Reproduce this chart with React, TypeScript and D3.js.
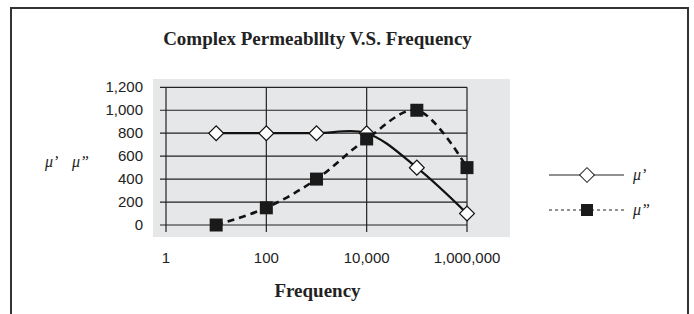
import React, { useEffect, useRef } from "react";
import * as d3 from "d3";

const freqs = [10, 100, 1000, 10000, 100000, 1000000];
const muReal = [800, 800, 800, 800, 500, 100];
const muImag = [0, 150, 400, 750, 1000, 500];
const xTicks = [1, 100, 10000, 1000000];
const yTicks = [0, 200, 400, 600, 800, 1000, 1200];
const title = "Complex Permeablllty V.S. Frequency";
const xTitle = "Frequency";
const yTitleParts = ["\u03bc\u2019", "\u03bc\u201d"];
const legendLabels = ["\u03bc\u2019", "\u03bc\u201d"];

const W = 694;
const H = 314;

export default function App() {
  const ref = useRef<SVGSVGElement | null>(null);

  useEffect(() => {
    const svg = d3.select(ref.current);
    svg.selectAll("*").remove();
    svg.attr("viewBox", `0 0 ${W} ${H}`);

    const serif = "'Liberation Serif', 'Times New Roman', serif";
    const sans = "'Liberation Sans', Arial, sans-serif";

    svg.append("rect").attr("width", W).attr("height", H).attr("fill", "#fff");

    // outer frame (no bottom edge visible)
    svg.append("path")
      .attr("d", `M11,${H} L11,8 L688,8 L688,${H}`)
      .attr("fill", "none").attr("stroke", "#333").attr("stroke-width", 2);

    const x = d3.scaleLog().domain([1, 1000000]).range([166, 467]);
    const y = d3.scaleLinear().domain([0, 1200]).range([225, 87.3]);

    // plot area background
    svg.append("rect").attr("x", 153).attr("y", 79).attr("width", 357).attr("height", 158).attr("fill", "#e6e7e8");

    const g = svg.append("g");

    // horizontal gridlines + outer ticks
    g.selectAll(".hg").data(yTicks).enter().append("line")
      .attr("x1", 160).attr("x2", x(1000000))
      .attr("y1", d => y(d)).attr("y2", d => y(d))
      .attr("stroke", "#222").attr("stroke-width", 1.2);

    // vertical gridlines + ticks below axis
    g.selectAll(".vg").data(xTicks).enter().append("line")
      .attr("x1", d => x(d)).attr("x2", d => x(d))
      .attr("y1", y(1200)).attr("y2", y(0) + 7)
      .attr("stroke", "#222").attr("stroke-width", 1.2);

    // y tick labels
    g.selectAll(".yl").data(yTicks).enter().append("text")
      .attr("x", 143).attr("y", d => y(d) + 5)
      .attr("text-anchor", "end").attr("font-family", sans).attr("font-size", 15).attr("fill", "#222")
      .text(d => d3.format(",")(d));

    // x tick labels
    g.selectAll(".xl").data(xTicks).enter().append("text")
      .attr("x", d => x(d)).attr("y", 263)
      .attr("text-anchor", "middle").attr("font-family", sans).attr("font-size", 15).attr("fill", "#222")
      .text(d => d3.format(",")(d));

    const realPts = freqs.map((f, i) => [x(f), y(muReal[i])] as [number, number]);
    const imagPts = freqs.map((f, i) => [x(f), y(muImag[i])] as [number, number]);
    const line = d3.line().curve(d3.curveCatmullRom.alpha(0.5));

    g.append("path").attr("d", line(realPts) as string)
      .attr("fill", "none").attr("stroke", "#111").attr("stroke-width", 2.2);

    g.selectAll(".dia").data(realPts).enter().append("path")
      .attr("d", d3.symbol(d3.symbolSquare, 110)() as string)
      .attr("transform", d => `translate(${d[0]},${d[1]}) rotate(45)`)
      .attr("fill", "#fff").attr("stroke", "#111").attr("stroke-width", 1.2);

    g.append("path").attr("d", line(imagPts) as string)
      .attr("fill", "none").attr("stroke", "#111").attr("stroke-width", 2.6)
      .attr("stroke-dasharray", "7,5");

    g.selectAll(".sq").data(imagPts).enter().append("rect")
      .attr("x", d => d[0] - 6.5).attr("y", d => d[1] - 6.5)
      .attr("width", 13).attr("height", 13).attr("fill", "#1a1a1a");

    // titles
    svg.append("text").attr("x", 317.5).attr("y", 45)
      .attr("text-anchor", "middle").attr("font-family", serif).attr("font-weight", "bold")
      .attr("font-size", 19).attr("fill", "#222").text(title);

    svg.append("text").attr("x", 317.5).attr("y", 297)
      .attr("text-anchor", "middle").attr("font-family", serif).attr("font-weight", "bold")
      .attr("font-size", 19).attr("fill", "#222").text(xTitle);

    svg.selectAll(".yt").data(yTitleParts).enter().append("text")
      .attr("x", (d, i) => 45 + i * 27).attr("y", 167)
      .attr("font-family", serif).attr("font-style", "italic")
      .attr("font-size", 16).attr("fill", "#222").text(d => d);

    // legend
    const lg = svg.append("g");
    const rows = [175, 210];
    lg.append("line").attr("x1", 549).attr("x2", 624).attr("y1", rows[0]).attr("y2", rows[0])
      .attr("stroke", "#222").attr("stroke-width", 1);
    lg.append("path").attr("d", d3.symbol(d3.symbolSquare, 110)() as string)
      .attr("transform", `translate(587,${rows[0]}) rotate(45)`)
      .attr("fill", "#fff").attr("stroke", "#222").attr("stroke-width", 1);
    lg.append("line").attr("x1", 549).attr("x2", 624).attr("y1", rows[1]).attr("y2", rows[1])
      .attr("stroke", "#222").attr("stroke-width", 1).attr("stroke-dasharray", "3,3");
    lg.append("rect").attr("x", 581).attr("y", rows[1] - 6).attr("width", 12).attr("height", 12).attr("fill", "#1a1a1a");
    lg.selectAll(".lt").data(legendLabels).enter().append("text")
      .attr("x", 633).attr("y", (d, i) => rows[i] + 5)
      .attr("font-family", serif).attr("font-style", "italic")
      .attr("font-size", 16).attr("fill", "#222").text(d => d);
  }, []);

  return (
    <div style={{ position: "absolute", left: 0, top: 0, width: W, height: H }}>
      <svg ref={ref} width={W} height={H} style={{ display: "block" }} />
    </div>
  );
}
